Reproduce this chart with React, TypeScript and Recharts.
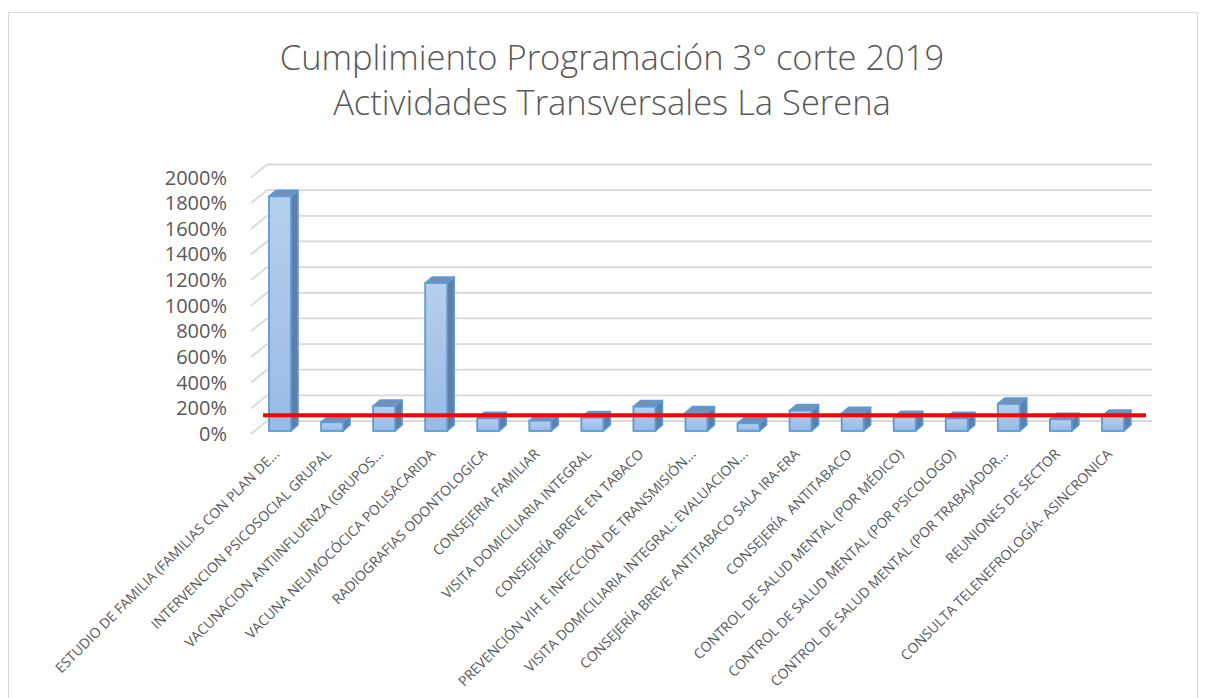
import { BarChart, Bar, XAxis, YAxis, CartesianGrid, ReferenceLine } from "recharts";

const activities = [
  "ESTUDIO DE FAMILIA (FAMILIAS CON PLAN DE...",
  "INTERVENCION PSICOSOCIAL GRUPAL",
  "VACUNACION ANTIINFLUENZA (GRUPOS...",
  "VACUNA NEUMOCÓCICA POLISACARIDA",
  "RADIOGRAFIAS ODONTOLOGICA",
  "CONSEJERIA FAMILIAR",
  "VISITA DOMICILIARIA INTEGRAL",
  "CONSEJERÍA BREVE EN TABACO",
  "PREVENCIÓN VIH E INFECCIÓN DE TRANSMISIÓN...",
  "VISITA DOMICILIARIA INTEGRAL: EVALUACION...",
  "CONSEJERÍA BREVE ANTITABACO SALA IRA-ERA",
  "CONSEJERÍA  ANTITABACO",
  "CONTROL DE SALUD MENTAL (POR MÉDICO)",
  "CONTROL DE SALUD MENTAL (POR PSICOLOGO)",
  "CONTROL DE SALUD MENTAL (POR TRABAJADOR...",
  "REUNIONES DE SECTOR",
  "CONSULTA TELENEFROLOGÍA- ASINCRONICA",
];

// % de cumplimiento
const compliance = [1830, 68, 195, 1154, 99, 80, 104, 190, 143, 60, 159, 138, 107, 99, 211, 91, 117];

const yTicks = [0, 200, 400, 600, 800, 1000, 1200, 1400, 1600, 1800, 2000];
const target = 100;

const data = activities.map((name, i) => ({ name, value: compliance[i] }));

const GRAY = "#595959";
const FONT = "'Open Sans', 'Liberation Sans', sans-serif";

// fake 3d: back wall offset from the front plane, bar depth
const WALL_DX = 16;
const WALL_DY = 13;
const BAR_DX = 3;
const BAR_DY = 3;
const DEPTH_DX = 7;
const DEPTH_DY = 6;

function WallLine(props: any) {
  const { x1, y1, x2 } = props;
  const stroke = "#d9d9d9";
  return (
    <g>
      <line x1={x1} y1={y1} x2={x1 + WALL_DX} y2={y1 - WALL_DY} stroke={stroke} strokeWidth={1.8} />
      <line x1={x1 + WALL_DX} y1={y1 - WALL_DY} x2={x2 + WALL_DX} y2={y1 - WALL_DY} stroke={stroke} strokeWidth={1.8} />
    </g>
  );
}

function Bar3D(props: any) {
  const { x, y, width, height } = props;
  if (height == null || isNaN(height)) return null;
  const fx = x + BAR_DX;
  const fy = y - BAR_DY;
  const w = width;
  const h = height;
  const top = `${fx},${fy} ${fx + DEPTH_DX},${fy - DEPTH_DY} ${fx + w + DEPTH_DX},${fy - DEPTH_DY} ${fx + w},${fy}`;
  const side = `${fx + w},${fy} ${fx + w + DEPTH_DX},${fy - DEPTH_DY} ${fx + w + DEPTH_DX},${fy + h - DEPTH_DY} ${fx + w},${fy + h}`;
  return (
    <g>
      <polygon points={side} fill="#5f7fa6" stroke="#5b9bd5" strokeWidth={1.6} strokeLinejoin="round" />
      <polygon points={top} fill="#7590b6" stroke="#5b9bd5" strokeWidth={1.6} strokeLinejoin="round" />
      <rect x={fx} y={fy} width={w} height={h} fill="url(#frontFace)" stroke="#5b9bd5" strokeWidth={1.8} />
    </g>
  );
}

function YTick(props: any) {
  const { x, y, payload } = props;
  return (
    <text x={x} y={y} dy="0.35em" textAnchor="end" fill={GRAY} fontSize={20} fontFamily={FONT}>
      {payload.value}%
    </text>
  );
}

function XTick(props: any) {
  const { x, y, payload } = props;
  const ax = x + 3;
  const ay = y + 21;
  return (
    <text
      x={ax}
      y={ay}
      textAnchor="end"
      fill={GRAY}
      fontSize={14}
      fontFamily={FONT}
      transform={`rotate(-45, ${ax}, ${ay})`}
      style={{ whiteSpace: "pre" }}
    >
      {payload.value}
    </text>
  );
}

function TargetLine(props: any) {
  const { x1, y1, x2 } = props;
  return <line x1={x1 + 12} y1={y1 - 6} x2={x2 + 10} y2={y1 - 6} stroke="#ff0000" strokeWidth={4} />;
}

export default function App() {
  return (
    <div
      style={{
        position: "relative",
        marginTop: 4,
        width: 1188,
        height: 700,
        border: "1px solid #d9d9d9",
        borderBottom: "none",
        background: "#fff",
        fontFamily: FONT,
      }}
    >
      <div
        style={{
          position: "absolute",
          left: 9,
          top: 21,
          width: 1188,
          textAlign: "center",
          color: GRAY,
          fontSize: 34.5,
          fontWeight: 300,
          lineHeight: "45px",
        }}
      >
        <div>Cumplimiento Programación 3° corte 2019</div>
        <div>Actividades Transversales La Serena</div>
      </div>
      <BarChart
        width={1188}
        height={690}
        data={data}
        margin={{ top: 164.5, right: 61, bottom: 229, left: 0 }}
      >
        <defs>
          <linearGradient id="frontFace" x1="0" y1="0" x2="0" y2="1">
            <stop offset="0%" stopColor="#b6cfee" />
            <stop offset="100%" stopColor="#98bae4" />
          </linearGradient>
        </defs>
        <CartesianGrid vertical={false} horizontal={(p: any) => <WallLine {...p} />} />
        <XAxis
          dataKey="name"
          interval={0}
          axisLine={false}
          tickLine={false}
          tickSize={0}
          tickMargin={0}
          height={40}
          tick={<XTick />}
        />
        <YAxis
          domain={[0, 2000]}
          ticks={yTicks}
          width={242}
          axisLine={false}
          tickLine={false}
          tickSize={0}
          tickMargin={24}
          tick={<YTick />}
        />
        <Bar dataKey="value" barSize={22} shape={<Bar3D />} isAnimationActive={false} />
        <ReferenceLine y={target} shape={<TargetLine />} />
      </BarChart>
    </div>
  );
}
